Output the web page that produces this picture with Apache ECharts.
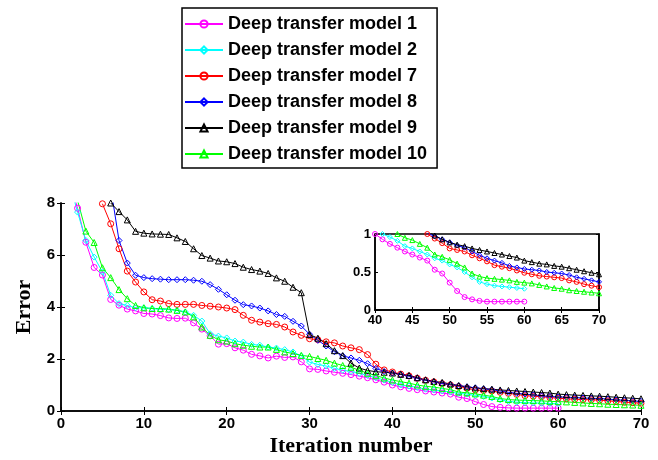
<!DOCTYPE html>
<html>
<head>
<meta charset="utf-8">
<script src="https://cdn.jsdelivr.net/npm/echarts@6/dist/echarts.min.js"></script>
<style>
html,body{margin:0;padding:0;background:#fff;}
#chart{width:658px;height:460px;}
</style>
</head>
<body>
<div id="chart"></div>
<script>
// ---- data ----
const seriesNames = ['Deep transfer model 1','Deep transfer model 2','Deep transfer model 7','Deep transfer model 8','Deep transfer model 9','Deep transfer model 10'];
const xTicksMain = [0,10,20,30,40,50,60,70];
const yTicksMain = [0,2,4,6,8];
const xTicksInset = [40,45,50,55,60,65,70];
const yTicksInset = [0,0.5,1];

// first iteration of each series
const model1Start = 1;
const model1 = [8.9,7.80,6.49,5.52,5.23,4.29,4.07,3.92,3.85,3.75,3.73,3.67,3.58,3.56,3.57,3.39,3.15,2.89,2.57,2.59,
  2.43,2.34,2.18,2.12,2.04,2.11,2.06,2.08,1.89,1.62,1.60,1.54,1.49,1.45,1.40,1.34,1.28,1.20,1.11,1.00,
  0.93,0.87,0.82,0.77,0.73,0.69,0.65,0.53,0.48,0.36,0.25,0.17,0.14,0.12,0.11,0.11,0.11,0.11,0.11,0.11];
const model2Start = 1;
const model2 = [8.8,7.65,6.56,5.92,5.35,4.45,4.13,4.06,3.97,3.97,3.94,3.91,3.90,3.87,3.81,3.68,3.46,2.97,2.88,2.81,
  2.69,2.65,2.56,2.53,2.46,2.42,2.36,2.27,2.12,1.88,1.79,1.73,1.64,1.57,1.52,1.45,1.37,1.28,1.19,1.10,
  1.00,0.96,0.91,0.84,0.81,0.77,0.73,0.68,0.65,0.60,0.56,0.50,0.43,0.37,0.34,0.32,0.31,0.30,0.29,0.28];
const model7Start = 5;
const model7 = [7.97,7.2,6.24,5.38,4.96,4.58,4.28,4.23,4.13,4.10,4.10,4.10,4.06,4.03,4.00,3.96,3.90,3.68,3.49,3.42,
  3.36,3.33,3.23,3.04,2.91,2.78,2.74,2.66,2.62,2.50,2.43,2.36,2.17,1.80,1.58,1.50,1.42,1.35,1.26,1.18,
  1.12,1.05,1.00,0.94,0.88,0.81,0.79,0.77,0.72,0.68,0.64,0.59,0.57,0.55,0.52,0.49,0.47,0.45,0.44,0.43,
  0.42,0.39,0.37,0.34,0.32,0.30];
const model8Start = 6;
const model8 = [8.6,6.56,5.69,5.22,5.13,5.09,5.07,5.05,5.05,5.05,5.03,4.99,4.86,4.68,4.47,4.26,4.09,4.04,3.96,3.85,
  3.71,3.64,3.45,3.27,2.95,2.72,2.50,2.28,2.12,2.04,1.95,1.82,1.64,1.52,1.46,1.40,1.34,1.26,1.18,1.12,
  1.06,1.01,0.97,0.93,0.89,0.85,0.82,0.77,0.72,0.68,0.65,0.62,0.58,0.56,0.54,0.53,0.52,0.50,0.49,0.48,
  0.46,0.43,0.41,0.39,0.37];
const model9Start = 6;
const model9 = [8.0,7.67,7.35,6.91,6.84,6.81,6.80,6.79,6.66,6.52,6.24,5.98,5.88,5.77,5.74,5.67,5.53,5.44,5.38,5.29,
  5.12,4.99,4.76,4.55,2.94,2.80,2.59,2.32,2.13,1.84,1.65,1.56,1.51,1.49,1.46,1.41,1.37,1.28,1.20,1.14,
  1.10,1.04,0.98,0.93,0.89,0.86,0.84,0.81,0.79,0.77,0.75,0.73,0.71,0.69,0.65,0.63,0.61,0.60,0.58,0.57,
  0.55,0.53,0.51,0.49,0.47];
const model10Start = 1;
const model10 = [9.6,8.1,6.92,6.48,5.51,5.13,4.67,4.32,4.06,3.97,3.94,3.94,3.92,3.87,3.81,3.62,3.23,2.91,2.74,2.69,
  2.59,2.53,2.49,2.46,2.46,2.37,2.27,2.21,2.14,2.10,2.02,1.95,1.84,1.75,1.68,1.57,1.45,1.36,1.27,1.19,
  1.13,1.07,1.00,0.95,0.92,0.87,0.82,0.73,0.70,0.66,0.61,0.56,0.48,0.44,0.42,0.41,0.40,0.39,0.37,0.36,
  0.35,0.33,0.31,0.29,0.28,0.26,0.25,0.24,0.23,0.22];

const colors = ['#ff00ff','#00ffff','#ff0000','#0000ff','#000000','#00ff00'];
const symbols = ['circle','diamond','circle','diamond','triangle','triangle'];
const starts = [model1Start,model2Start,model7Start,model8Start,model9Start,model10Start];
const values = [model1,model2,model7,model8,model9,model10];

function pairs(start, arr){ return arr.map((v,i)=>[start+i, v]); }

const chart = echarts.init(document.getElementById('chart'), null, {renderer:'canvas'});
const lblFont = {fontFamily:'Liberation Sans, Arial, sans-serif', fontWeight:'bold', color:'#000'};
const axisLine = {show:true, lineStyle:{color:'#000', width:1.5}};

function mkSeries(i, xi, yi, size){
  return {
    type:'line', name: seriesNames[i], xAxisIndex:xi, yAxisIndex:yi,
    data: pairs(starts[i], values[i]),
    symbol: symbols[i], symbolSize: size, showAllSymbol:true, clip:true,
    lineStyle:{color:colors[i], width:1},
    itemStyle:{color:'rgba(255,255,255,0)', borderColor:colors[i], borderWidth:1},
    emphasis:{disabled:true}, animation:false, z: 3 + (xi>=2?10:0)
  };
}

const series = [];
for (let i=0;i<6;i++) series.push(mkSeries(i,0,0,6));
for (let i=0;i<6;i++) series.push(mkSeries(i,2,2,5));

const option = {
  animation:false,
  backgroundColor:'#fff',
  legend:{
    data: seriesNames, orient:'vertical', left:182, top:8,
    itemWidth:38, itemHeight:9, itemGap:8,
    padding:[7,10,5,2],
    borderColor:'#000', borderWidth:1.5, backgroundColor:'#fff',
    textStyle:{fontFamily:'Liberation Sans, Arial, sans-serif', fontWeight:'bold', fontSize:18, color:'#000'},
    selectedMode:false
  },
  grid:[
    {left:61, top:203, width:580, height:208, show:false},
    {left:375, top:234, width:224, height:76, show:true, backgroundColor:'#fff', borderColor:'#000', borderWidth:1.5, z:10}
  ],
  xAxis:[
    {type:'value', gridIndex:0, min:0, max:70, interval:10, position:'bottom',
     axisLine:axisLine, axisTick:{inside:true, length:4, lineStyle:{color:'#000'}},
     axisLabel:Object.assign({fontSize:15, margin:5}, lblFont), splitLine:{show:false},
     name:'Iteration number', nameLocation:'middle', nameGap:24,
     nameTextStyle:{fontFamily:'Liberation Serif, Times New Roman, serif', fontWeight:'bold', fontSize:22, color:'#000'}},
    {type:'value', gridIndex:0, min:0, max:70, interval:10, position:'top',
     axisLine:axisLine, axisTick:{inside:true, length:4, lineStyle:{color:'#000'}},
     axisLabel:{show:false}, splitLine:{show:false}},
    {type:'value', gridIndex:1, min:40, max:70, interval:5, position:'bottom', z:12,
     axisLine:axisLine, axisTick:{inside:true, length:3, lineStyle:{color:'#000'}},
     axisLabel:Object.assign({fontSize:13, margin:4}, lblFont), splitLine:{show:false}},
    {type:'value', gridIndex:1, min:40, max:70, interval:5, position:'top', z:12,
     axisLine:axisLine, axisTick:{inside:true, length:3, lineStyle:{color:'#000'}},
     axisLabel:{show:false}, splitLine:{show:false}}
  ],
  yAxis:[
    {type:'value', gridIndex:0, min:0, max:8, interval:2, position:'left',
     axisLine:axisLine, axisTick:{inside:true, length:4, lineStyle:{color:'#000'}},
     axisLabel:Object.assign({fontSize:15, margin:6}, lblFont), splitLine:{show:false},
     name:'Error', nameLocation:'middle', nameGap:26,
     nameTextStyle:{fontFamily:'Liberation Serif, Times New Roman, serif', fontWeight:'bold', fontSize:22, color:'#000'}},
    {type:'value', gridIndex:0, min:0, max:8, interval:2, position:'right',
     axisLine:axisLine, axisTick:{inside:true, length:4, lineStyle:{color:'#000'}},
     axisLabel:{show:false}, splitLine:{show:false}},
    {type:'value', gridIndex:1, min:0, max:1, interval:0.5, position:'left', z:12,
     axisLine:axisLine, axisTick:{inside:true, length:3, lineStyle:{color:'#000'}},
     axisLabel:Object.assign({fontSize:13, margin:4}, lblFont), splitLine:{show:false}},
    {type:'value', gridIndex:1, min:0, max:1, interval:0.5, position:'right', z:12,
     axisLine:axisLine, axisTick:{inside:true, length:3, lineStyle:{color:'#000'}},
     axisLabel:{show:false}, splitLine:{show:false}}
  ],
  series: series
};
chart.setOption(option);
</script>
</body>
</html>
